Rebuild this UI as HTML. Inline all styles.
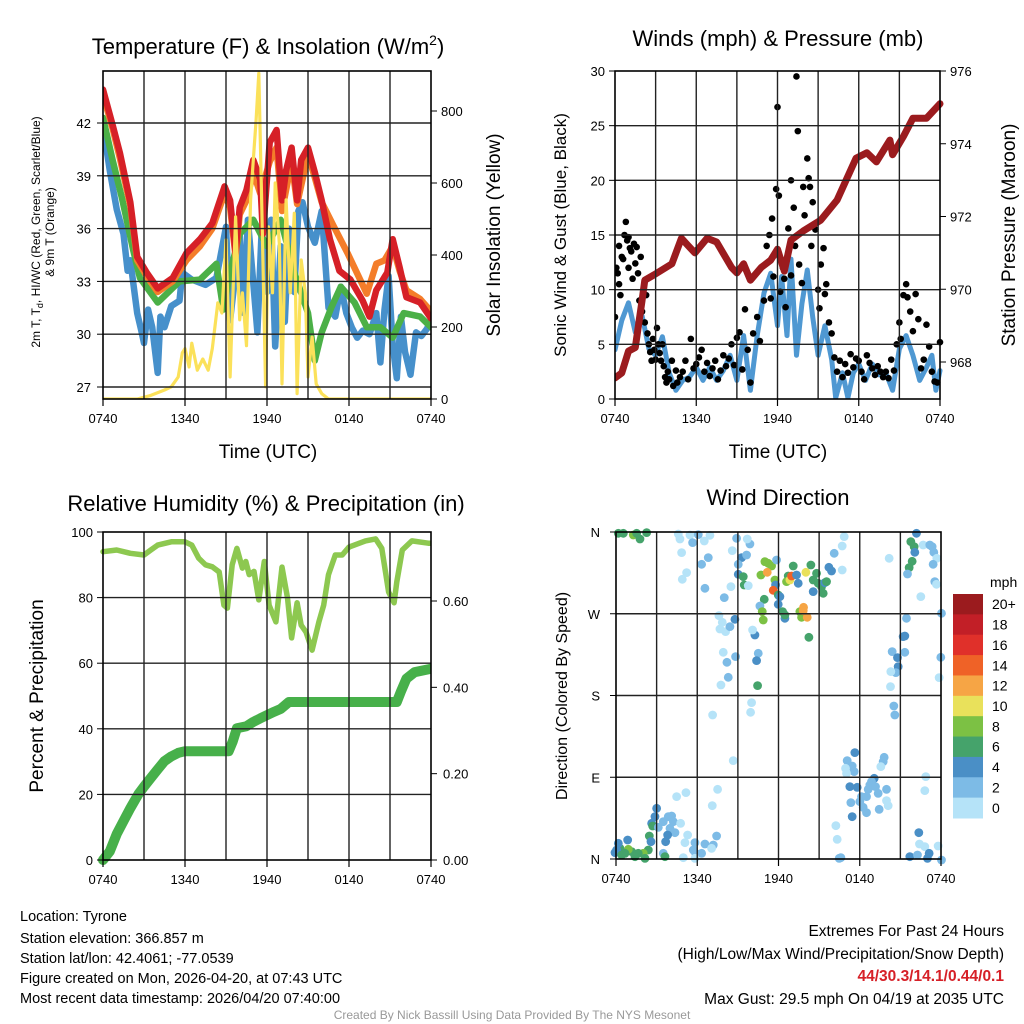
<!DOCTYPE html>
<html><head><meta charset="utf-8"><style>
html,body{margin:0;padding:0;background:#fff;}
svg{display:block;font-family:"Liberation Sans",sans-serif;}
</style></head><body>
<svg id="c" width="1024" height="1024" viewBox="0 0 1024 1024" xmlns="http://www.w3.org/2000/svg">
<rect width="1024" height="1024" fill="#fff"/>
<text x="268" y="54" font-size="22" text-anchor="middle">Temperature (F) &amp; Insolation (W/m<tspan font-size="14" dy="-9">2</tspan><tspan dy="9">)</tspan></text>
<text x="778" y="46" font-size="22" text-anchor="middle">Winds (mph) &amp; Pressure (mb)</text>
<text x="266" y="511" font-size="22" text-anchor="middle">Relative Humidity (%) &amp; Precipitation (in)</text>
<text x="778" y="505" font-size="22" text-anchor="middle">Wind Direction</text>
<text transform="translate(40,232) rotate(-90)" font-size="12" text-anchor="middle">2m T, T<tspan font-size="9" dy="3">d</tspan><tspan dy="-3">, HI/WC (Red, Green, Scarlet/Blue)</tspan></text>
<text transform="translate(54,232) rotate(-90)" font-size="12" text-anchor="middle">&amp; 9m T (Orange)</text>
<text transform="translate(500,235) rotate(-90)" font-size="19" text-anchor="middle">Solar Insolation (Yellow)</text>
<text x="268" y="458" font-size="19" text-anchor="middle">Time (UTC)</text>
<text x="778" y="458" font-size="19" text-anchor="middle">Time (UTC)</text>
<text transform="translate(566,235) rotate(-90)" font-size="17" text-anchor="middle">Sonic Wind &amp; Gust (Blue, Black)</text>
<text transform="translate(1015,235) rotate(-90)" font-size="19" text-anchor="middle">Station Pressure (Maroon)</text>
<text transform="translate(43,696) rotate(-90)" font-size="19" text-anchor="middle">Percent &amp; Precipitation</text>
<text transform="translate(567,696) rotate(-90)" font-size="16" text-anchor="middle">Direction (Colored By Speed)</text>
<g font-size="14.5">
<text x="20" y="921">Location: Tyrone</text>
<text x="20" y="943">Station elevation: 366.857 m</text>
<text x="20" y="963">Station lat/lon: 42.4061; -77.0539</text>
<text x="20" y="983">Figure created on Mon, 2026-04-20, at 07:43 UTC</text>
<text x="20" y="1003">Most recent data timestamp: 2026/04/20 07:40:00</text>
</g>
<g font-size="15.5" text-anchor="end">
<text x="1004" y="936">Extremes For Past 24 Hours</text>
<text x="1004" y="959">(High/Low/Max Wind/Precipitation/Snow Depth)</text>
<text x="1004" y="981" fill="#d62027" font-weight="bold">44/30.3/14.1/0.44/0.1</text>
<text x="1004" y="1004">Max Gust: 29.5 mph On 04/19 at 2035 UTC</text>
</g>
<text x="512" y="1019" font-size="12" fill="#999" text-anchor="middle">Created By Nick Bassill Using Data Provided By The NYS Mesonet</text>
</svg>
<script>
// ---- Temperature panel data (t = hours since 0740 UTC) ----
const tRed=[0,0.73,1.24,2.0,2.5,3.2,4.0,5.1,6.1,7.1,8.0,8.9,9.3,9.7,10.0,10.5,11.0,11.5,11.7,12.2,12.7,13.1,13.4,13.8,14.2,14.5,15.0,15.5,16.0,16.6,17.3,18.1,19.0,19.5,20.0,20.8,21.2,21.7,22.2,23.2,24];
const vRed=[43.9,41.8,40.3,37.5,34.4,33.5,32.6,33.2,34.6,35.4,36.3,38.4,37.6,34.6,37.2,38.2,39.9,38.8,35.7,40.9,41.6,37.6,39.3,40.6,37.6,39.9,40.6,39.2,37.6,35.4,33.6,33.1,31.9,31.0,32.5,33.5,35.4,33.8,32.1,31.8,30.9];
const tOrange=[0,0.73,1.24,2.0,2.5,3.2,4.0,5.1,6.1,7.1,8.0,8.9,9.3,9.7,10.0,10.5,11.0,11.5,12.2,12.7,13.1,13.8,14.2,15.0,15.5,16.0,16.9,17.9,19.3,20.0,20.6,21.2,21.7,22.2,23.2,24];
const vOrange=[43.6,41.6,40.0,37.3,34.2,33.3,32.4,33.0,34.2,35.0,36.0,38.0,37.2,34.4,36.8,37.6,39.2,38.0,39.8,40.6,37.0,39.8,37.4,40.2,38.9,37.5,36.1,34.6,32.3,34.0,34.2,35.0,33.6,32.5,32.0,31.3];
const tGreen=[0,0.7,1.4,2.2,2.7,4.0,5.6,7.1,8.3,8.8,9.3,10.0,11.0,12.0,13.0,14.0,15.0,15.5,16.0,16.7,17.4,18.4,19.3,20.3,21.2,22.0,23.2,24];
const vGreen=[42.3,39.9,37.7,34.8,33.2,31.8,33.0,33.1,34.0,31.4,33.5,35.7,36.5,35.0,36.5,33.5,31.2,28.5,30.1,31.5,32.7,31.8,30.4,30.4,29.8,31.2,31.0,30.4];
const tBlue=[0,0.5,1.0,1.5,1.8,2.0,2.5,2.8,3.0,3.3,3.6,4.0,4.2,4.5,5.0,5.6,5.8,6.5,7.5,8.3,9.0,9.3,9.7,10.0,10.3,10.6,11.0,11.3,11.6,12.0,12.3,12.6,13.0,13.3,13.6,14.0,14.3,14.6,15.0,15.5,16.0,16.5,17.0,17.4,17.8,18.2,18.6,19.0,19.5,20.0,20.3,20.6,20.9,21.2,21.5,21.8,22.1,22.5,22.9,23.3,23.7,24];
const vBlue=[41.8,39.3,37.1,35.7,33.6,34.2,31.2,30.2,29.5,31.4,30.4,27.8,31.0,30.4,31.6,31.9,33.5,33.1,32.8,33.2,36.1,30.8,33.5,35.7,31.2,36.5,32.9,30.1,35.7,32.4,36.5,29.3,35.0,30.7,36.0,32.4,37.0,37.5,36.1,35.2,37.0,31.5,31.0,32.7,31.2,30.4,29.8,30.2,30.0,31.2,28.4,31.4,33.3,29.4,27.5,31.0,29.0,27.7,30.1,29.9,30.3,30.8];
const tSolar=[0,2.5,3.5,4.5,5.0,5.5,5.8,6.0,6.3,6.5,6.9,7.3,7.7,8.0,8.4,8.7,9.0,9.3,9.7,10.0,10.2,10.5,10.8,11.0,11.2,11.4,11.6,11.9,12.1,12.4,12.6,12.9,13.1,13.4,13.7,14.0,14.2,14.5,14.8,15.0,15.3,15.6,16.0,16.5,24];
const vSolar=[0,0,10,25,34,61,128,140,89,155,80,111,80,140,267,239,442,61,506,220,295,148,553,664,775,905,572,34,478,295,600,433,42,553,295,516,15,386,295,61,172,42,15,0,0];
// ---- Wind panel data ----
const tWind=[0,0.5,1.0,1.5,2.0,2.5,3.0,3.5,4.0,4.5,5.0,5.5,6.0,6.5,7.0,7.5,8.0,8.5,9.0,9.5,10.0,10.5,11.0,11.5,12.0,12.3,12.7,13.0,13.4,13.8,14.2,14.6,15.0,15.5,16.0,16.3,16.8,17.2,17.6,18.0,18.5,19.0,19.5,20.0,20.5,21.0,21.5,22.0,22.5,23.0,23.4,23.7,24];
const vWind=[4.5,7.2,8.8,6.1,7.6,4.6,4.0,5.7,2.4,0.8,1.7,2.0,2.9,1.7,2.9,1.7,2.6,4.0,1.7,5.8,0.8,5.8,9.7,11.5,6.7,11.2,5.8,12.8,4.0,8.7,11.8,7.5,4.0,6.7,3.6,0.1,2.4,0.1,2.4,3.2,1.7,3.2,2.2,2.4,0.8,4.6,5.8,4.0,1.7,2.9,4.0,0.8,2.6];
const tGust=[0.0,0.1,0.2,0.3,0.3,0.4,0.5,0.6,0.7,0.8,0.9,1.0,1.0,1.1,1.2,1.3,1.4,1.5,1.6,1.7,1.8,1.9,2.0,2.1,2.2,2.3,2.4,2.5,2.6,2.7,2.8,2.9,3.0,3.1,3.2,3.3,3.4,3.5,3.6,3.7,3.8,3.9,4.0,4.2,4.3,4.5,4.6,4.8,5.0,5.2,5.4,5.6,5.8,6.0,6.2,6.4,6.6,6.8,7.0,7.2,7.4,7.6,7.8,8.0,8.2,8.4,8.6,8.8,9.0,9.2,9.4,9.6,9.8,10.0,10.2,10.5,10.7,11.0,11.2,11.4,11.5,11.6,11.7,11.9,12.0,12.1,12.2,12.4,12.5,12.6,12.8,13.0,13.0,13.2,13.3,13.4,13.5,13.6,13.8,13.9,14.0,14.2,14.3,14.4,14.5,14.6,14.8,15.0,15.1,15.2,15.4,15.5,15.6,15.8,16.0,16.2,16.4,16.6,16.8,17.0,17.2,17.4,17.6,17.8,18.0,18.2,18.4,18.6,18.8,19.0,19.2,19.4,19.6,19.8,20.0,20.2,20.4,20.6,20.8,21.0,21.1,21.3,21.5,21.6,21.8,22.0,22.2,22.4,22.6,22.8,23.0,23.2,23.4,23.6,23.8,24.0];
const vGust=[7.5,12,11.5,14,10.5,9.5,13,12.8,15,16.2,14.5,12,14.8,13.8,13.5,11,14.2,12.4,13.9,11.5,9,13,8,10,7,9.5,6,5,4.3,3.5,5.5,4.5,3.6,6.5,5,4.2,3.5,5,3,2,1.5,2.5,1.8,3.5,1.2,2.6,1.5,2,2.5,3.5,1.8,5.5,2.8,3.2,3.8,4.5,2.5,3.3,2.1,2.8,3.5,1.8,2.6,4,3,3.7,5,3.1,5.6,6.1,2.7,8.2,4.5,1.5,6,7.5,5.3,9,14,15,9.2,16.5,11.2,19.2,26.7,18.6,9.8,12,11,8.4,15.6,20,11.3,17.5,14,29.5,24.5,12.3,10.6,19.4,16.8,22,20.2,19.4,14,18,15.5,10,8.3,12.3,13.8,9.6,10.5,7,6,3.8,2.5,3.5,2.0,3.2,2.4,4.1,2.9,3.7,3.5,2.5,1.8,4.0,3.3,2.8,2.2,3.0,2.5,2.0,2.5,1.9,3.6,2.6,5.0,7.0,5.5,9.5,10.5,9.3,8,6.2,9.6,7.3,2.8,3.6,6.8,4.8,2.5,1.6,1.5,5.2];
const tPres=[0,0.5,1.0,1.5,2.0,2.2,2.9,4.2,4.9,5.4,5.9,6.8,7.5,8.6,9.0,9.5,10.0,10.8,11.5,12.0,12.5,13.0,13.9,15.2,16.4,17.8,18.6,19.3,20.3,20.5,21.3,22.0,23.0,24];
const vPres=[967.56,967.7,968.3,968.4,969.7,970.25,970.4,970.7,971.4,971.2,971.0,971.4,971.3,970.6,970.45,970.7,970.25,970.6,970.8,971.1,970.5,971.35,971.6,971.9,972.45,973.6,973.75,973.5,974.1,973.7,974.2,974.7,974.7,975.1];
// ---- Humidity / precipitation ----
const tRH=[0,1,2,3,3.5,4,5,6,6.5,7.0,7.5,8.0,8.5,8.85,9.1,9.45,9.8,10.2,10.45,10.7,11.05,11.4,11.8,12.15,12.65,13.1,13.5,13.8,14.2,14.5,14.85,15.3,15.8,16.15,16.5,17.0,17.5,18.0,19.2,19.95,20.4,20.7,20.9,21.3,21.5,21.9,22.6,23.8,24];
const vRH=[94,94.5,93.5,93,94.5,96,97,97,96,92,90,89.4,87.8,77.7,76.8,90,95,89,91,87,88,79.3,91,77.7,72.6,89.3,79.9,67.7,78.4,71.6,69.5,64,72.6,77.7,87,93,93,95.4,97.3,97.9,95,87,81.7,78.4,84.8,94.5,97.3,96.6,96.6];
const tPcp=[0,0.5,1,1.5,2,2.6,3,3.5,4,4.5,5,5.5,6,9.2,9.5,9.8,10.5,11,11.5,12.5,13,13.6,21.5,21.8,22.2,22.8,24];
const vPcp=[0,0.02,0.06,0.09,0.12,0.153,0.17,0.19,0.21,0.229,0.24,0.248,0.252,0.252,0.275,0.305,0.31,0.32,0.328,0.343,0.35,0.366,0.366,0.39,0.42,0.435,0.443];
// ---- Wind direction (picture coords converted to t hours, degrees; speed mph) ----
const dirZX=[40,55,85,95,105,125,220,225,230,245,232,255,263,280,298,315,290,310,300,358,382,378,395,410,425,400,400,415,418,430,435,427,342,352,345,362,375,390,355,366,392,370,348,450,443,460,455,458,440,437,323,385,480,490,500,468,487,510,515,512,505,520,525,478,465,472,475,520,533,540,540,550,545,555,560,565,575,580,585,590,596,595,607,612,603,618,625,625,635,640,650,655,660,665,672,680,688,712,718,712,853,905,895,900,862,878,900,880,873,858,857,867,870,935,918,928,930,922,913,908,955,975,982,987,996,985,990,995,948,1010,1008,1003,750,727,733,742,722,748,725,838,835,828,808,800,795,790,812,820,845,785,770,765,775,785,823,845,850,735,757,738,742,693,697,703,708,963,960,942,944,960,973,1000,915,938,968,1010,155,150,140,143,160,175,190,200,205,195,210,188,182,227,215,243,248,240,265,272,290,300,325,320,335,338,322,270,133,138,130,115,100,80,70,60,45,35,30,40,68,50,90,120,175,180,235,270];
const dirZY=[40,40,45,40,57,38,42,57,98,158,178,45,68,44,63,46,133,113,205,233,92,200,55,113,105,133,163,170,195,197,72,57,287,307,327,335,320,298,397,427,410,472,495,345,330,400,422,497,548,577,585,722,125,130,138,165,157,180,120,195,211,225,230,238,258,275,300,253,275,295,285,168,185,180,168,138,165,190,275,292,262,272,292,352,157,135,180,215,160,190,200,220,188,185,142,153,100,78,50,150,115,295,350,348,395,413,397,440,458,455,500,558,585,40,65,80,97,124,143,162,75,75,80,97,115,133,185,193,230,280,412,473,698,722,738,738,745,755,760,712,725,740,775,785,795,808,800,820,808,830,830,845,862,878,868,842,857,800,802,848,890,917,958,1015,1013,770,812,938,972,980,1000,978,1010,1005,1015,1020,865,890,910,918,922,905,890,888,905,925,938,945,965,910,830,818,945,968,990,1000,1000,972,975,985,948,808,857,968,948,965,990,1000,1000,995,988,1000,985,990,998,970,960,1005,1010,1015,1000,1010,1013,1015];
const dirSpd=[7,7,9,7,7,7,1,1,1,1,1,1,3,3,1,1,3,3,3,3,1,1,3,5,3,3,5,7,7,1,3,1,1,1,1,1,3,5,1,3,3,3,1,5,1,3,5,7,1,1,1,1,9,9,9,9,13,9,3,5,15,7,5,7,3,9,9,5,7,5,7,7,9,11,15,7,5,5,9,9,13,13,13,7,11,7,7,5,7,7,7,7,5,7,5,5,3,1,1,1,1,3,5,5,3,5,3,5,3,1,1,3,3,5,7,7,5,7,7,3,1,3,3,3,1,3,3,1,1,3,3,1,5,3,3,3,1,3,1,3,3,1,5,3,3,3,3,3,3,3,3,3,3,3,3,1,1,5,5,3,5,1,1,3,3,1,1,5,1,1,5,1,5,3,5,3,5,5,5,7,3,3,3,3,3,3,3,5,5,1,1,1,1,1,3,3,3,3,3,1,3,1,1,3,7,5,7,9,7,7,9,7,7,5,5,5,5,7,7,7,3,7,1,1];
const spdColors=["#b5e3f8","#7dbbe6","#4a8fc6","#45a36b","#7cc144","#e9e15b","#f6a545","#ef6227","#e0302a","#c21f27","#9b1b1e"];
const spdLabels=["0","2","4","6","8","10","12","14","16","18","20+"];
const timeLabels=["0740","1340","1940","0140","0740"];

const S=document.getElementById('c');
const NS='http://www.w3.org/2000/svg';
function el(tag,attrs,parent){const e=document.createElementNS(NS,tag);for(const k in attrs)e.setAttribute(k,attrs[k]);(parent||S).appendChild(e);return e;}
function txt(x,y,s,size,anchor,parent){const e=el('text',{x:x,y:y,'font-size':size,'text-anchor':anchor},parent);e.textContent=s;return e;}
function scale(d0,d1,r0,r1){return v=>r0+(v-d0)*(r1-r0)/(d1-d0);}
function poly(ts,vs,xs,ys,color,w,name,parent){let d='';for(let i=0;i<ts.length;i++)d+=(i?'L':'M')+xs(ts[i]).toFixed(1)+','+ys(vs[i]).toFixed(1);const p=el('path',{d:d,fill:'none',stroke:color,'stroke-width':w,'stroke-linejoin':'round','stroke-linecap':'round'},parent);


return p;}
function frame(x0,y0,x1,y1,name,hLines,vLines){const g=el('g',{});


hLines.forEach(y=>{const l=el('line',{x1:x0,x2:x1,y1:y,y2:y,stroke:'#222','stroke-width':1.4},g);

});
vLines.forEach(x=>{const l=el('line',{x1:x,x2:x,y1:y0,y2:y1,stroke:'#222','stroke-width':1.4},g);

});
const r=el('rect',{x:x0,y:y0,width:x1-x0,height:y1-y0,fill:'none',stroke:'#000','stroke-width':1.6},g);


return g;}
function timeAxis(x0,x1,y,parent){const xs=scale(0,24,x0,x1);timeLabels.forEach((s,i)=>{el('line',{x1:xs(i*6),x2:xs(i*6),y1:y,y2:y+7,stroke:'#000','stroke-width':1.2},parent);const t=txt(xs(i*6),y+24,s,13,'middle',parent);

});}
function grid3(x0,x1){const a=[];for(let k=1;k<8;k++)a.push(x0+(x1-x0)*k/8);return a;}

// ===== Panel 1: temperature =====
{const X0=103,X1=431,Y0=71,Y1=399;
const xs=scale(0,24,X0,X1), ys=scale(27,42,387,123), ysol=scale(0,800,399,111);
const g=el('g',{});


const tempTicks=[27,30,33,36,39,42];
frame(X0,Y0,X1,Y1,'temperature-grid',tempTicks.map(ys),grid3(X0,X1));
const clip=el('clipPath',{id:'cp1'});el('rect',{x:X0,y:Y0,width:X1-X0,height:Y1-Y0},clip);
const pg=el('g',{'clip-path':'url(#cp1)'},g);
poly(tBlue,vBlue,xs,ys,'#4690cb',6.5,'windchill-line',pg);
poly(tGreen,vGreen,xs,ys,'#4bb047',6.5,'dewpoint-line',pg);
poly(tOrange,vOrange,xs,ys,'#f47d2a',6.5,'temp-9m-line',pg);
poly(tRed,vRed,xs,ys,'#d62027',6.5,'temp-2m-line',pg);
poly(tSolar,vSolar,xs,ysol,'#fbe15a',3.2,'insolation-line',pg);
tempTicks.forEach(v=>{el('line',{x1:X0-6,x2:X0,y1:ys(v),y2:ys(v),stroke:'#000'},g);const t=txt(X0-12,ys(v)+5,String(v),13,'end',g);

});
[0,200,400,600,800].forEach(v=>{el('line',{x1:X1,x2:X1+6,y1:ysol(v),y2:ysol(v),stroke:'#000'},g);const t=txt(X1+10,ysol(v)+5,String(v),13,'start',g);

});
timeAxis(X0,X1,Y1,g);}

// ===== Panel 2: winds & pressure =====
{const X0=615,X1=940,Y0=71,Y1=399;
const xs=scale(0,24,X0,X1), ys=scale(0,30,399,71), yp=scale(968,976,362,71);
const g=el('g',{});


const wt=[0,5,10,15,20,25,30];
frame(X0,Y0,X1,Y1,'winds-grid',[5,10,15,20,25].map(ys),grid3(X0,X1));
const clip=el('clipPath',{id:'cp2'});el('rect',{x:X0,y:Y0-4,width:X1-X0+4,height:Y1-Y0+4},clip);
const pg=el('g',{'clip-path':'url(#cp2)'},g);
poly(tWind,vWind,xs,ys,'#4f98d2',5,'sonic-wind-line',pg);
for(let i=0;i<tGust.length;i++){const c=el('circle',{cx:xs(tGust[i]),cy:ys(vGust[i]),r:3.3,fill:'#000'},pg);

}
poly(tPres,vPres,xs,yp,'#9b1b1e',7,'pressure-line',pg);
wt.forEach(v=>{el('line',{x1:X0-6,x2:X0,y1:ys(v),y2:ys(v),stroke:'#000'},g);const t=txt(X0-10,ys(v)+5,String(v),13,'end',g);

});
[968,970,972,974,976].forEach(v=>{el('line',{x1:X1,x2:X1+6,y1:yp(v),y2:yp(v),stroke:'#000'},g);const t=txt(X1+10,yp(v)+5,String(v),13,'start',g);

});
timeAxis(X0,X1,Y1,g);}

// ===== Panel 3: RH & precip =====
{const X0=103,X1=431,Y0=532,Y1=860;
const xs=scale(0,24,X0,X1), ys=scale(0,100,860,532), yi=scale(0,0.6,860,601);
const g=el('g',{});


frame(X0,Y0,X1,Y1,'humidity-grid',[20,40,60,80].map(ys),grid3(X0,X1));
const clip=el('clipPath',{id:'cp3'});el('rect',{x:X0-6,y:Y0,width:X1-X0+6,height:Y1-Y0+6},clip);
const pg=el('g',{'clip-path':'url(#cp3)'},g);
poly(tRH,vRH,xs,ys,'#8dc850',5.5,'humidity-line',pg);
poly(tPcp,vPcp,xs,yi,'#47b04a',10,'precip-line',pg);
[0,20,40,60,80,100].forEach(v=>{el('line',{x1:X0-6,x2:X0,y1:ys(v),y2:ys(v),stroke:'#000'},g);const t=txt(X0-10,ys(v)+5,String(v),13,'end',g);

});
[0,0.2,0.4,0.6].forEach(v=>{el('line',{x1:X1,x2:X1+6,y1:yi(v),y2:yi(v),stroke:'#000'},g);const t=txt(X1+12,yi(v)+5,v.toFixed(2),13,'start',g);

});
timeAxis(X0,X1,Y1,g);}

// ===== Panel 4: wind direction =====
{const X0=616,X1=941,Y0=532,Y1=859;
const xs=scale(0,24,X0,X1), ys=scale(0,360,859,532);
const g=el('g',{});


frame(X0,Y0,X1,Y1,'direction-grid',[90,180,270].map(ys),grid3(X0,X1));
const clip=el('clipPath',{id:'cp4'});el('rect',{x:X0-6,y:Y0-6,width:X1-X0+12,height:Y1-Y0+12},clip);
const pg=el('g',{'clip-path':'url(#cp4)'},g);
for(let i=0;i<dirZX.length;i++){
 const t=(dirZX[i]-33)/40.65, deg=(1017-dirZY[i])*0.367;
 const ci=Math.min(10,Math.floor(dirSpd[i]/2));
 const c=el('circle',{cx:xs(t),cy:ys(deg),r:4.4,fill:spdColors[ci]},pg);
 
 }
['N','E','S','W','N'].forEach((s,i)=>{el('line',{x1:X0-6,x2:X0,y1:ys(i*90),y2:ys(i*90),stroke:'#000'},g);const t=txt(X0-16,ys(i*90)+5,s,13,'end',g);

});
timeAxis(X0,X1,Y1,g);
// colorbar
const cb=el('g',{});


const top=594,h=(818-594)/11;
const u=txt(990,587,'mph',14,'start',cb);


for(let k=0;k<11;k++){const idx=10-k;
 const r=el('rect',{x:953,y:top+k*h,width:30,height:h+0.5,fill:spdColors[idx]},cb);
 
 
 const t=txt(992,top+k*h+h/2+5,spdLabels[idx],14,'start',cb);
 
 }}
</script>
</body></html>
